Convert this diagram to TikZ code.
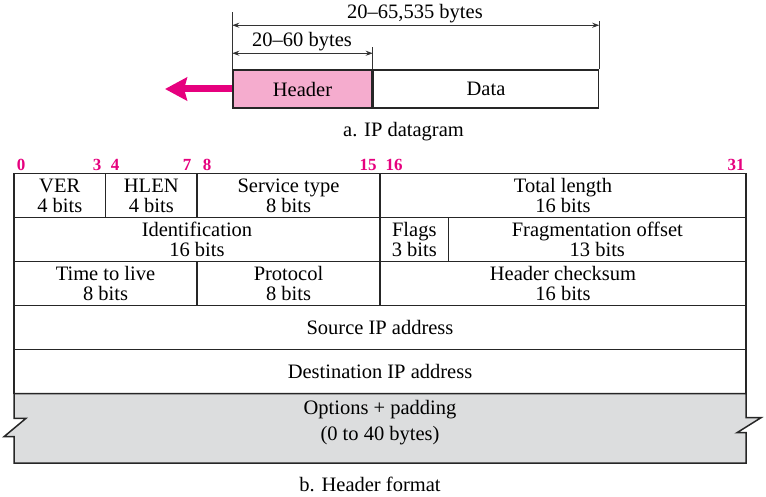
\documentclass[tikz,border=0pt]{standalone}
\usepackage{fontspec}
\setmainfont{Liberation Serif}
\usepackage{tikz}
\usetikzlibrary{calc}
\usetikzlibrary{positioning}
\usetikzlibrary{arrows.meta}

\definecolor{ipmagenta}{RGB}{230,0,126}
\definecolor{hdrpink}{RGB}{245,172,206}
\definecolor{optgray}{RGB}{220,221,222}
\newcommand\ipfont{\fontsize{20.5}{20}\selectfont}

\tikzset{
  field/.style={draw=black!85,line width=1.5pt,inner sep=0pt,align=center,font=\ipfont,minimum height=44pt},
  bitnum/.style={anchor=base,font=\fontsize{17}{17}\selectfont\bfseries,text=ipmagenta,inner sep=0pt},
  dimline/.style={line width=0.8pt,black!80},
  dimarrow/.style={line width=0.8pt,black!80,{Stealth[length=7pt,width=5pt]}-{Stealth[length=7pt,width=5pt]}},
  caption/.style={font=\ipfont,inner sep=0pt}
}

\begin{document}
\begin{tikzpicture}[x=1pt,y=-1pt]
\useasboundingbox (0,0) rectangle (766,497);

% a. IP datagram
\node[field,fill=hdrpink,minimum width=139pt,minimum height=38pt] (hdr) at (302.5,89) {Header};
\node[field,minimum width=225pt,minimum height=38pt,right=0pt of hdr] (data) {Data};
\coordinate (tip) at (165,89);
\draw[ipmagenta,line width=7pt,-{Stealth[length=22pt,width=23pt,inset=3pt]}] (hdr.west) -- (tip);

\draw[dimline] (hdr.north west) -- ++(0,-57);
\draw[dimline] (data.north east) -- ++(0,-48);
\draw[dimline] (hdr.north east) -- ++(0,-22);
\draw[dimarrow] ([yshift=44pt]hdr.north west) -- ([yshift=44pt]data.north east);
\draw[dimarrow] ([yshift=16pt]hdr.north west) -- ([yshift=16pt]hdr.north east);
\node[caption,anchor=base] (lentotal) at (415,19) {20--65,535 bytes};
\node[caption,anchor=base] (lenhdr) at (302,47) {20--60 bytes};
\node[caption,below=13pt of hdr.south,xshift=101pt] (capa) {a. IP datagram};

% bit numbers
\node[bitnum] (b0) at (21,170.5) {0};
\node[bitnum] (b3) at (97,170.5) {3};
\node[bitnum] (b4) at (115,170.5) {4};
\node[bitnum] (b7) at (187,170.5) {7};
\node[bitnum] (b8) at (207,170.5) {8};
\node[bitnum] (b15) at (368,170.5) {15};
\node[bitnum] (b16) at (394,170.5) {16};
\node[bitnum] (b31) at (736,170.5) {31};

% b. Header format
\node[field,minimum width=91.5pt] (ver) at (59.75,195.5) {VER\\4 bits};
\node[field,minimum width=91.5pt] (hlen) at (151.25,195.5) {HLEN\\4 bits};
\node[field,minimum width=183pt] (service) at (288.5,195.5) {Service type\\8 bits};
\node[field,minimum width=366pt] (totlen) at (563,195.5) {Total length\\16 bits};

\node[field,minimum width=366pt] (ident) at (197,239.5) {Identification\\16 bits};
\node[field,minimum width=68.6pt] (flags) at (414.3,239.5) {Flags\\3 bits};
\node[field,minimum width=297.4pt] (fragoff) at (597.3,239.5) {Fragmentation offset\\13 bits};

\node[field,minimum width=183pt] (ttl) at (105.5,283.5) {Time to live\\8 bits};
\node[field,minimum width=183pt] (proto) at (288.5,283.5) {Protocol\\8 bits};
\node[field,minimum width=366pt] (checksum) at (563,283.5) {Header checksum\\16 bits};

\node[field,minimum width=732pt] (srcip) at (380,327.5) {Source IP address};
\node[field,minimum width=732pt] (dstip) at (380,371.5) {Destination IP address};

\draw[field,fill=optgray,line join=miter] (14,393.5) -- (746,393.5) -- (746,417.7) -- (761,417.7) -- (737,432.7)
  -- (746,432.7) -- (746,463) -- (14,463) -- (14,436.7) -- (4,436.7) -- (26,418.3) -- (14,418.3) -- cycle;
\node[caption,align=center,font=\fontsize{20.5}{26}\selectfont] (options) at (380,423) {Options + padding\\(0 to 40 bytes)};

\node[caption] (capb) at (370,484) {b. Header format};

\end{tikzpicture}
\end{document}
